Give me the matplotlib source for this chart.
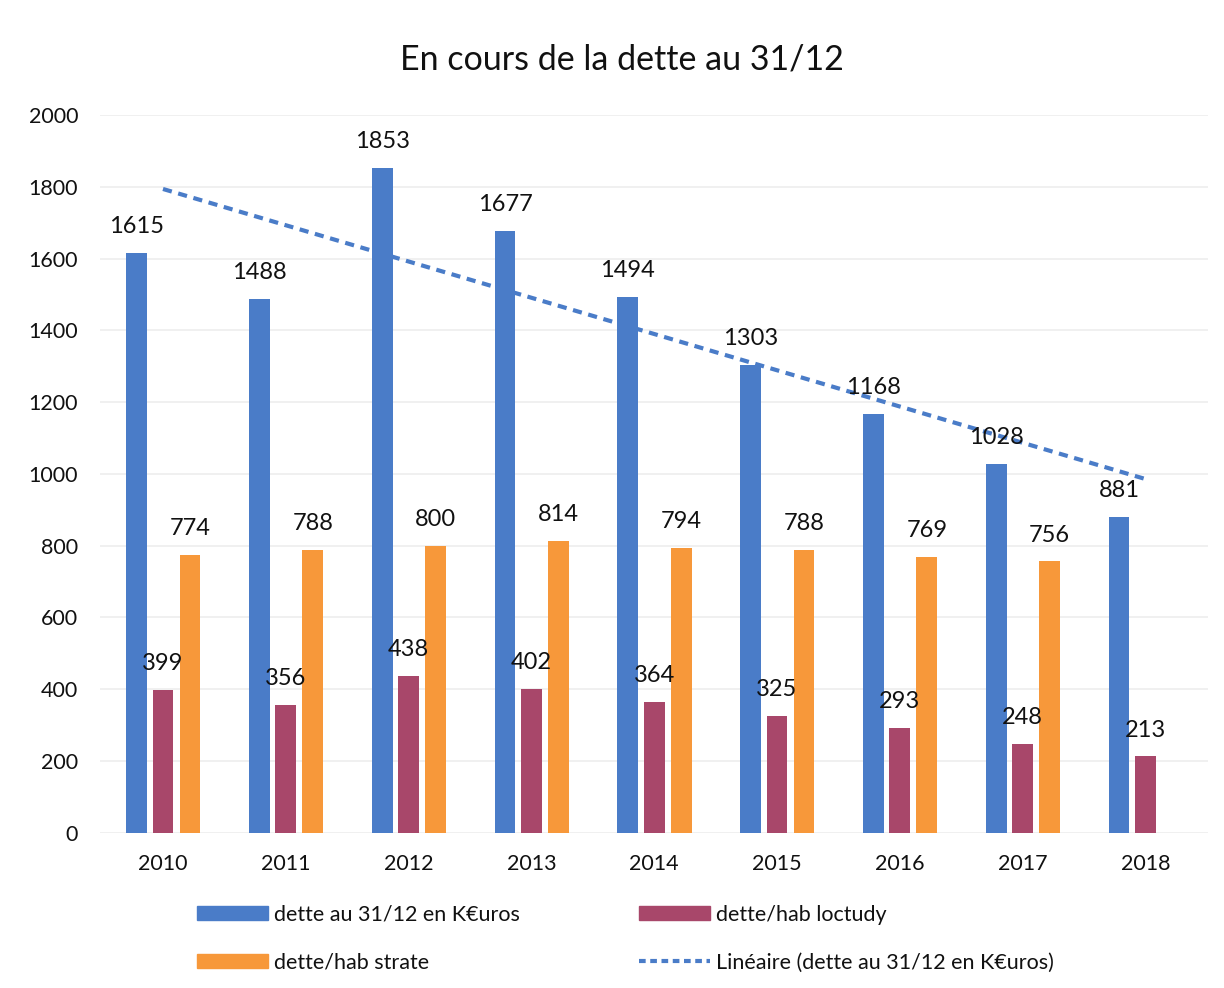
import numpy as np
import matplotlib
matplotlib.use("Agg")
import matplotlib.pyplot as plt
from matplotlib.lines import Line2D
from matplotlib.patches import Patch

plt.rcParams['font.family'] = ['Lato', 'DejaVu Sans']

years = ["2010", "2011", "2012", "2013", "2014", "2015", "2016", "2017", "2018"]
dette_total = [1615, 1488, 1853, 1677, 1494, 1303, 1168, 1028, 881]
dette_hab_loctudy = [399, 356, 438, 402, 364, 325, 293, 248, 213]
dette_hab_strate = [774, 788, 800, 814, 794, 788, 769, 756, np.nan]

c_blue = "#4a7cc8"
c_red = "#a8476a"
c_orange = "#f7983a"
c_text = "#111111"

fig = plt.figure(figsize=(12.24, 9.88), dpi=100)
ax = fig.add_axes([0.082, 0.157, 0.905, 0.7267])

x = np.arange(len(years))
w = 0.17
ax.bar(x - 0.215, dette_total, width=w, color=c_blue, zorder=2)
ax.bar(x, dette_hab_loctudy, width=w, color=c_red, zorder=2)
ax.bar(x + 0.22, dette_hab_strate, width=w, color=c_orange, zorder=2)

# linear trend of the blue series
coef = np.polyfit(x, dette_total, 1)
ax.plot(x, np.polyval(coef, x), color=c_blue, lw=3, ls=(0, (2.2, 1.6)), zorder=3)

def labels(offset, values):
    for xi, v in zip(x + offset, values):
        if np.isnan(v):
            continue
        ax.annotate(f"{int(v)}", (xi, v), xytext=(0, 19), textcoords="offset points",
                    ha="center", va="center", fontsize=17, color=c_text, zorder=4)

labels(-0.215, dette_total)
labels(0.0, dette_hab_loctudy)
labels(0.22, dette_hab_strate)

ax.set_xlim(-0.51, 8.51)
ax.set_ylim(0, 2000)
ax.set_yticks(range(0, 2001, 200))
ax.set_xticks(x)
ax.set_xticklabels(years)
ax.tick_params(axis='both', length=0, labelsize=15.5, colors=c_text)
ax.tick_params(axis='x', pad=15)
ax.tick_params(axis='y', pad=16)
ax.grid(axis='y', color="#eeeeee", lw=1.2, zorder=0)
for s in ax.spines.values():
    s.set_visible(False)

fig.text(0.508, 0.94, "En cours de la dette au 31/12", ha="center", va="center",
         fontsize=24.5, color=c_text)

handles = [Patch(color=c_blue), Patch(color=c_orange), Patch(color=c_red),
           Line2D([], [], color=c_blue, lw=3, ls=(0, (1.6, 1.1)))]
names = ["dette au 31/12 en K€uros", "dette/hab strate", "dette/hab loctudy",
         "Linéaire (dette au 31/12 en K€uros)"]
fig.legend(handles, names, ncol=2, loc="center", bbox_to_anchor=(0.511, 0.05),
           frameon=False, fontsize=15.5, handlelength=3.3, handleheight=0.6,
           handletextpad=0.3, columnspacing=5.5, labelspacing=1.3,
           labelcolor=c_text)

fig.savefig("out.png", dpi=100)
